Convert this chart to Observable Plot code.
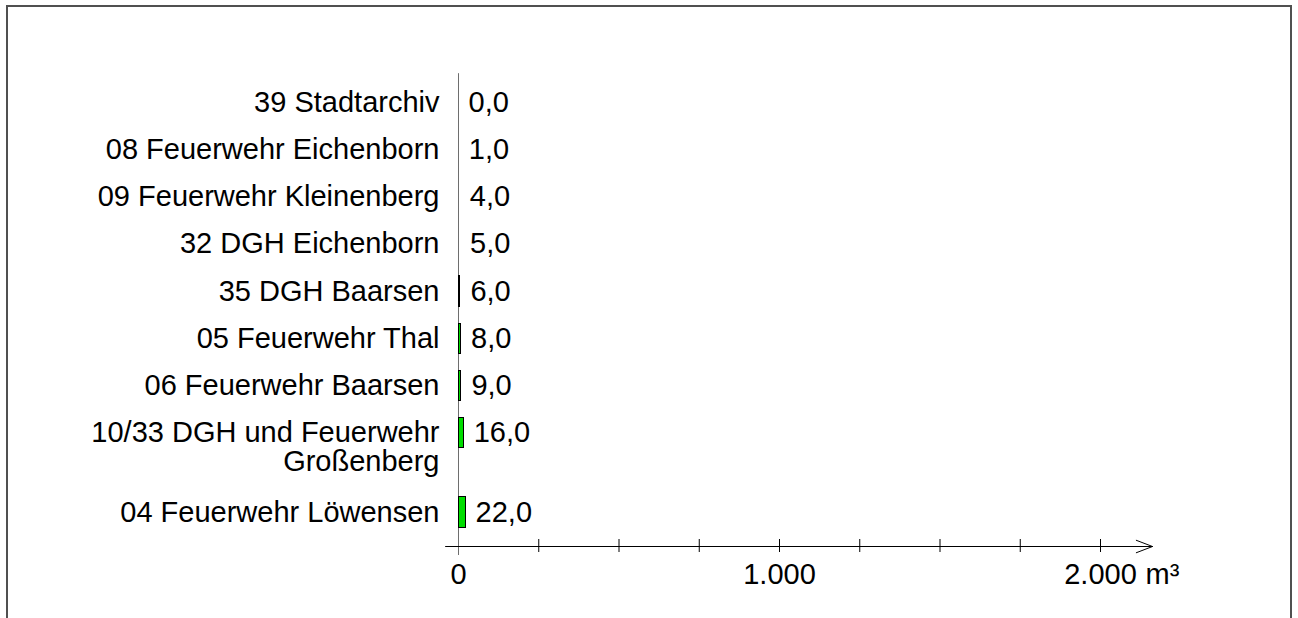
<!DOCTYPE html>
<html><head><meta charset="utf-8">
<script src="https://cdn.jsdelivr.net/npm/d3@7"></script>
<script src="https://cdn.jsdelivr.net/npm/@observablehq/plot@0.6"></script>
<style>
html,body{margin:0;padding:0;background:#fff;overflow:hidden;}
#wrap{position:relative;width:1298px;height:618px;overflow:hidden;}
#border{position:absolute;left:6px;top:5px;width:1286px;height:700px;border:2px solid #505050;box-sizing:border-box;pointer-events:none;}
</style></head><body>
<div id="wrap"><div id="chart"></div><div id="border"></div></div>
<script>
// ---- data ----
const categories = [
  "39 Stadtarchiv",
  "08 Feuerwehr Eichenborn",
  "09 Feuerwehr Kleinenberg",
  "32 DGH Eichenborn",
  "35 DGH Baarsen",
  "05 Feuerwehr Thal",
  "06 Feuerwehr Baarsen",
  "10/33 DGH und Feuerwehr\nGroßenberg",
  "04 Feuerwehr Löwensen"
];
const values = [0, 1, 4, 5, 6, 8, 9, 16, 22];
const xTicks = [0, 250, 500, 750, 1000, 1250, 1500, 1750, 2000];
const xTickLabels = [0, 1000, 2000];
const unitLabel = "m³";
const xDomain = [0, 2000];

// ---- layout / style ----
const FONT = "'Liberation Sans', Arial, Helvetica, sans-serif";
const FS = 29;
const minBarValue = 6;          // narrower bars are not visible in the source
const extraPerLine = 0.68;      // extra row height for each additional label line
const half = 0.32;              // half bar thickness in row units

const loc = d3.formatLocale({decimal: ",", thousands: ".", grouping: [3], currency: ["", "€"]});
const fmtVal = loc.format(",.1f");
const fmtTick = loc.format(",d");

const lineCounts = categories.map(c => c.split("\n").length);
const pos = [];
let p = 0;
categories.forEach((c, i) => { if (i > 0) p += 1 + extraPerLine * (lineCounts[i - 1] - 1); pos.push(p); });
const rows = categories.map((c, i) => ({label: c, value: values[i], pos: pos[i]}));
const lastPos = pos[pos.length - 1];
const axisPos = lastPos + 0.72;
const topPos = -0.61;

const chart = Plot.plot({
  width: 1298, height: 618, margin: 0,
  x: {domain: xDomain, range: [458, 1100], axis: null},
  y: {domain: [0, lastPos], range: [102, 512], axis: null},
  style: {fontFamily: FONT, fontSize: FS + "px", background: "white", color: "black"},
  marks: [
    Plot.ruleX([0], {y1: topPos, y2: axisPos, insetBottom: -9, stroke: "#6e6e6e"}),
    Plot.ruleY([axisPos], {x1: -40, x2: 2000, stroke: "black"}),
    Plot.arrow([0], {x1: 2000, x2: 2162, y1: axisPos, y2: axisPos, headLength: 28, headAngle: 42, stroke: "black", strokeWidth: 1}),
    Plot.ruleX(xTicks.filter(t => t > 0), {x: d => d, y1: axisPos, y2: axisPos, insetTop: -7, insetBottom: -6, stroke: "black"}),
    Plot.rect(rows.filter(d => d.value >= minBarValue), {x1: 0, x2: "value", y1: d => d.pos - half, y2: d => d.pos + half, fill: "#00dd00", stroke: "black", strokeWidth: 1, shapeRendering: "crispEdges"}),
    Plot.text(rows, {x: 0, y: "pos", text: "label", textAnchor: "end", lineAnchor: "top", dx: -19, dy: -0.39 * FS, lineHeight: 1.0, fontSize: FS, fill: "black"}),
    Plot.text(rows, {x: "value", y: "pos", text: d => fmtVal(d.value), textAnchor: "start", dx: 10, fontSize: FS, fill: "black"}),
    Plot.text(xTickLabels, {x: d => d, y: axisPos, text: d => fmtTick(d), dy: 28, fontSize: FS, fill: "black"}),
    Plot.text([unitLabel], {x: 2000, y: axisPos, text: d => d, textAnchor: "start", dx: 45, dy: 28, fontSize: FS, fill: "black"})
  ]
});
document.getElementById("chart").appendChild(chart);
</script>
</body></html>
